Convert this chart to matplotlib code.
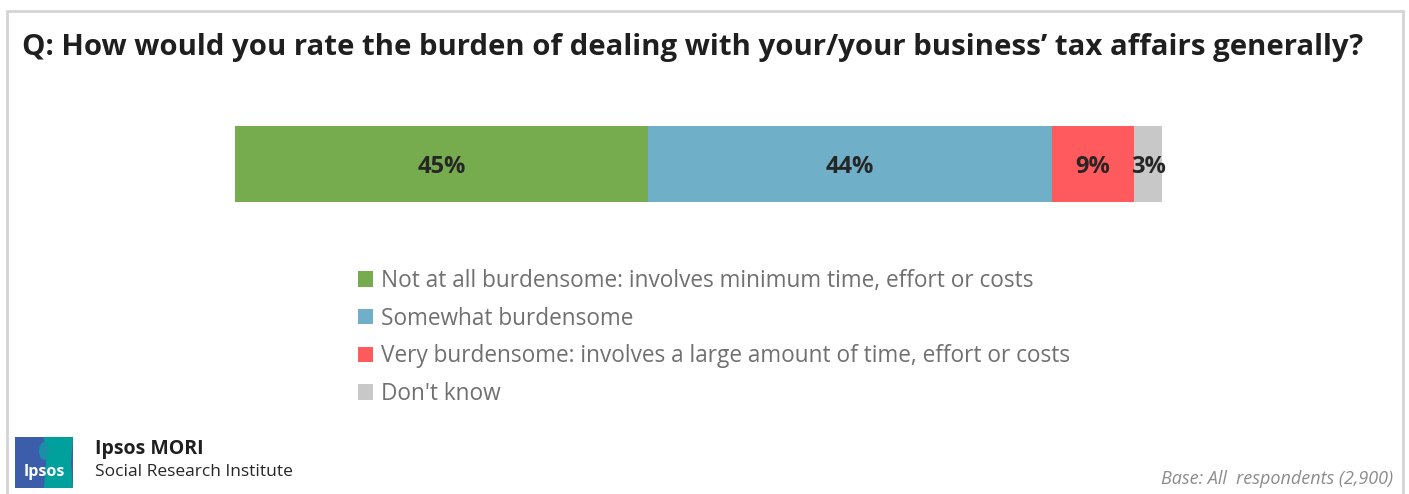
import matplotlib
matplotlib.use('Agg')
import matplotlib.pyplot as plt
from matplotlib.patches import Rectangle, Polygon, Ellipse

# survey answers and shares (%)
categories = ['Not at all burdensome: involves minimum time, effort or costs',
              'Somewhat burdensome',
              'Very burdensome: involves a large amount of time, effort or costs',
              "Don't know"]
shares = [45, 44, 9, 3]
colors = ['#77AC4E', '#6FAFC8', '#FF5A5D', '#C8C8C8']

title = 'Q: How would you rate the burden of dealing with your/your business\u2019 tax affairs generally?'
base_note = 'Base: All  respondents (2,900)'

W, H = 1409, 494
plt.rcParams['font.family'] = ['Open Sans', 'DejaVu Sans']

fig = plt.figure(figsize=(W / 100, H / 100), dpi=100)
fig.patch.set_facecolor('white')


def px(x, y):
    # pixel position (from top-left) to figure fraction
    return x / W, 1 - y / H


# outer panel frame
fig.add_artist(Rectangle(px(7, 520), (1403 - 7) / W, (520 - 11) / H,
                         transform=fig.transFigure, facecolor='none',
                         edgecolor='#D4D4D4', lw=2))

fig.text(*px(22, 47), title, fontsize=21.2, fontweight='bold',
         color='#1F1F1F', va='center', ha='left')

# stacked bar
total = sum(shares)
ax = fig.add_axes([235 / W, 1 - 202 / H, (1162 - 235) / W, (202 - 126) / H])
left = 0
for val, col, lab in zip(shares, colors, categories):
    ax.barh(0, val, left=left, height=1.0, color=col, label=lab)
    ax.text(left + val / 2, -0.04, f'{val}%', ha='center', va='center',
            fontsize=17, fontweight='bold', color='#262626')
    left += val
ax.set_xlim(0, total)
ax.set_ylim(-0.5, 0.5)
ax.axis('off')

handles, labels = ax.get_legend_handles_labels()
fig.legend(handles, labels, loc='upper left', bbox_to_anchor=px(349, 260),
           frameon=False, fontsize=16.3, labelcolor='#707070',
           handlelength=0.68, handleheight=0.68, handletextpad=0.35,
           labelspacing=0.6, borderaxespad=0)

# Ipsos logo
fig.add_artist(Rectangle(px(15, 488), 58 / W, 51 / H, transform=fig.transFigure,
                         facecolor='#3B5DAA', edgecolor='none'))
teal = [px(44, 437), px(73, 437), px(71, 462), px(73, 488), px(44, 488),
        px(46, 462)]
fig.add_artist(Polygon(teal, closed=True, transform=fig.transFigure,
                       facecolor='#00A19C', edgecolor='none'))
fig.add_artist(Ellipse(px(44, 451), 10 / W, 18 / H, transform=fig.transFigure,
                       facecolor='#1C8FA8', edgecolor='none'))
fig.text(*px(44, 472), 'Ipsos', fontsize=11.5, fontweight='bold',
         color='white', ha='center', va='center')

fig.text(*px(95, 449), 'Ipsos MORI', fontsize=14, fontweight='bold',
         color='#1F1F1F', va='center')
fig.text(*px(95, 472), 'Social Research Institute', fontsize=12.5,
         color='#262626', va='center')
fig.text(*px(1393, 479), base_note, fontsize=13, style='italic',
         color='#8C8C8C', ha='right', va='center')

fig.savefig('out.png', dpi=100, facecolor='white')
